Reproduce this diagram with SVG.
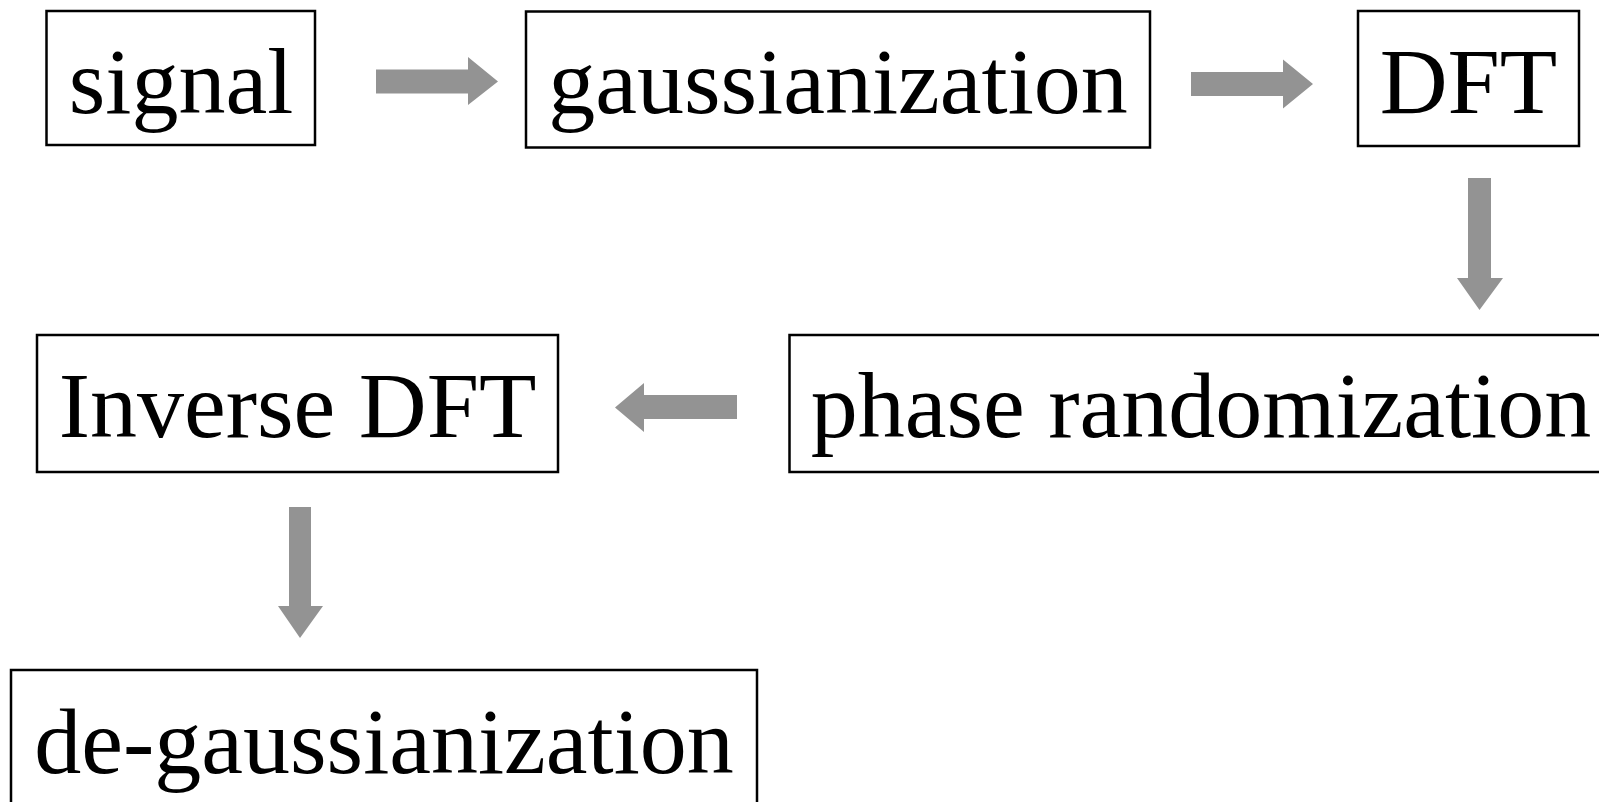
<svg xmlns="http://www.w3.org/2000/svg" width="1599" height="802" viewBox="0 0 1599 802">
<style>
.box{fill:#ffffff;stroke:#000000;stroke-width:2.5}
.lbl{font-family:"Liberation Serif","Times New Roman",serif;font-size:94px;fill:#000000;text-anchor:middle}
.arr{fill:#939393;stroke:none}
</style>
<rect width="1599" height="802" fill="#ffffff"/>
<g id="connectors">
<polygon class="arr" points="376,69.5 468,69.5 468,57 498,81.5 468,105 468,93.5 376,93.5"/>
<polygon class="arr" points="1191,72 1283,72 1283,59.5 1313,84 1283,108.5 1283,96 1191,96"/>
<polygon class="arr" points="1468,178 1491,178 1491,278 1503,278 1479.5,310 1457,278 1468,278"/>
<polygon class="arr" points="737,395 644,395 644,383 615,407.5 644,432 644,419 737,419"/>
<polygon class="arr" points="289,507 311,507 311,606 323,606 300,638 278,606 289,606"/>
</g>
<g id="node-signal">
<rect class="box" x="46.5" y="11" width="268.5" height="134"/>
<text class="lbl" x="181" y="113">signal</text>
</g>
<g id="node-gaussianization">
<rect class="box" x="526" y="11.5" width="624" height="136"/>
<text class="lbl" x="838" y="113">gaussianization</text>
</g>
<g id="node-dft">
<rect class="box" x="1358" y="11" width="221" height="135"/>
<text class="lbl" x="1468.5" y="113">DFT</text>
</g>
<g id="node-phase">
<rect class="box" x="789.5" y="335" width="824" height="137"/>
<text class="lbl" x="1201" y="437">phase randomization</text>
</g>
<g id="node-inverse-dft">
<rect class="box" x="37" y="335" width="521" height="137"/>
<text class="lbl" x="297.5" y="437">Inverse DFT</text>
</g>
<g id="node-degauss">
<rect class="box" x="11" y="670" width="746" height="140"/>
<text class="lbl" x="384" y="773">de-gaussianization</text>
</g>
</svg>
